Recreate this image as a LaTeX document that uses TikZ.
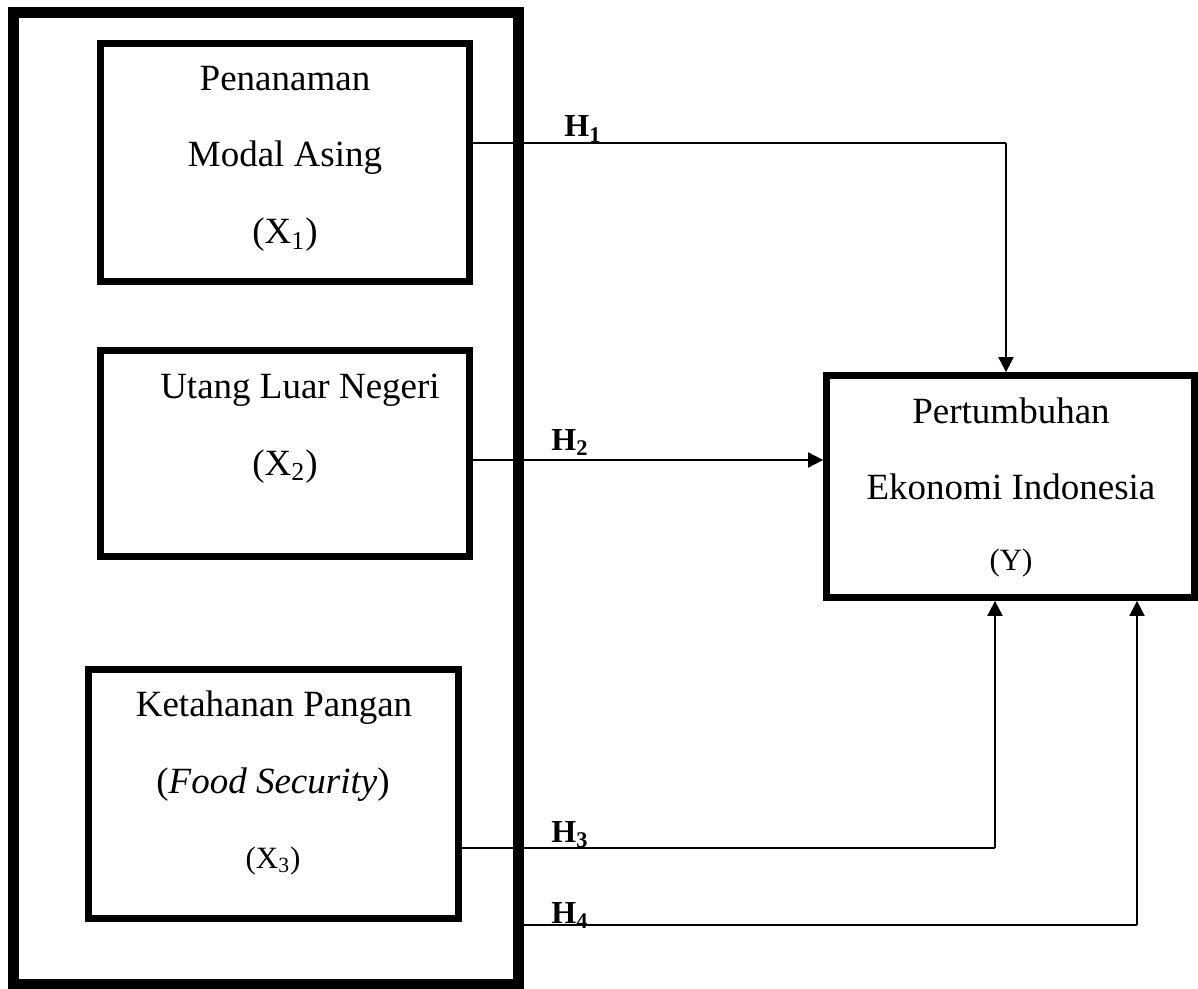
\documentclass[tikz,border=0pt]{standalone}
\usepackage{fontspec}
\setmainfont{Liberation Serif}
\usetikzlibrary{arrows.meta}
\begin{document}
\begin{tikzpicture}[x=0.5pt,y=-0.5pt,
  outerbox/.style={draw,line width=5.5pt,inner sep=0pt,minimum width=252.5pt,minimum height=485.5pt},
  varbox/.style={draw,line width=3.4pt,inner sep=0pt},
  lbl/.style={anchor=base,inner sep=0pt,font=\fontsize{18.5}{22}\selectfont},
  lbls/.style={anchor=base,inner sep=0pt,font=\fontsize{15.5}{18}\selectfont},
  hlbl/.style={anchor=base west,inner sep=0pt,font=\fontsize{16}{19}\selectfont\bfseries},
  conn/.style={line width=1pt},
  arr/.style={line width=1pt,-{Triangle[length=7.5pt,width=7.5pt]}}]
\useasboundingbox (0,0) rectangle (1198,989);
% boxes
\node[outerbox] (outer) at (266,498.5) {};
\node[varbox,minimum width=184.5pt,minimum height=119pt] (b1) at (285,162.5) {};
\node[varbox,minimum width=184.5pt,minimum height=103pt] (b2) at (285,453.5) {};
\node[varbox,minimum width=185pt,minimum height=124.5pt] (b3) at (273.5,794) {};
\node[varbox,minimum width=184pt,minimum height=111pt] (Y) at (1010.5,486.5) {};
% texts
\node[lbl] (t11) at (285,91) {Penanaman};
\node[lbl] (t12) at (285,167) {Modal Asing};
\node[lbl] (t13) at (285,244) {(X\textsubscript{1})};
\node[lbl] (t21) at (300,398) {Utang Luar Negeri};
\node[lbl] (t22) at (285,475) {(X\textsubscript{2})};
\node[lbl] (t31) at (274,716) {Ketahanan Pangan};
\node[lbl] (t32) at (273,793) {(\textit{Food Security})};
\node[lbls] (t33) at (273,868) {(X\textsubscript{3})};
\node[lbl] (ty1) at (1011,423) {Pertumbuhan};
\node[lbl] (ty2) at (1011,499) {Ekonomi Indonesia};
\node[lbls] (ty3) at (1011,570) {(Y)};
% connectors
\coordinate (h1c) at (1006,143);
\coordinate (h2c) at (700,460);
\coordinate (h3c) at (995,848);
\coordinate (h4c) at (1137,925);
\draw[conn] (b1.east |- h1c) -- (h1c);
\draw[arr] (h1c) -- (h1c |- Y.north);
\draw[arr] (b2.east |- h2c) -- (Y.west |- h2c);
\draw[conn] (b3.east |- h3c) -- (h3c);
\draw[arr] (h3c) -- (h3c |- Y.south);
\draw[conn] (outer.east |- h4c) -- (h4c);
\draw[arr] (h4c) -- (h4c |- Y.south);
% hypothesis labels
\node[hlbl] (H1) at (564,137) {H\textsubscript{1}};
\node[hlbl] (H2) at (551,450) {H\textsubscript{2}};
\node[hlbl] (H3) at (551,842) {H\textsubscript{3}};
\node[hlbl] (H4) at (551,923) {H\textsubscript{4}};
\end{tikzpicture}
\end{document}
